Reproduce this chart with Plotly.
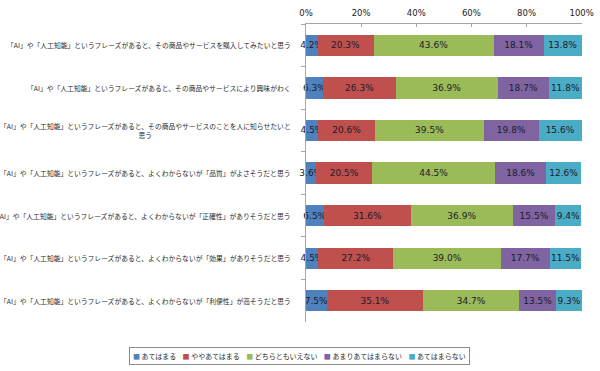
import plotly.graph_objects as go

categories = [
    "「AI」や「人工知能」というフレーズがあると、その商品やサービスを購入してみたいと思う",
    "「AI」や「人工知能」というフレーズがあると、その商品やサービスにより興味がわく",
    "「AI」や「人工知能」というフレーズがあると、その商品やサービスのことを人に知らせたいと<br>思う",
    "「AI」や「人工知能」というフレーズがあると、よくわからないが「品質」がよさそうだと思う",
    "「AI」や「人工知能」というフレーズがあると、よくわからないが「正確性」がありそうだと思う",
    "「AI」や「人工知能」というフレーズがあると、よくわからないが「効果」がありそうだと思う",
    "「AI」や「人工知能」というフレーズがあると、よくわからないが「利便性」が高そうだと思う",
]

series_names = ["あてはまる", "ややあてはまる", "どちらともいえない", "あまりあてはまらない", "あてはまらない"]
atehamaru = [4.2, 6.3, 4.5, 3.6, 6.5, 4.5, 7.5]
yaya_atehamaru = [20.3, 26.3, 20.6, 20.5, 31.6, 27.2, 35.1]
dochiratomo = [43.6, 36.9, 39.5, 44.5, 36.9, 39.0, 34.7]
amari = [18.1, 18.7, 19.8, 18.6, 15.5, 17.7, 13.5]
atehamaranai = [13.8, 11.8, 15.6, 12.6, 9.4, 11.5, 9.3]
series_values = [atehamaru, yaya_atehamaru, dochiratomo, amari, atehamaranai]
colors = ["#4F81BD", "#C0504D", "#9BBB59", "#8064A2", "#4BACC6"]

tick_vals = [0, 20, 40, 60, 80, 100]

num_font = dict(family="DejaVu Sans, Verdana, sans-serif", size=9, color="#1a1a2a")
jp_font = "Noto Sans CJK JP, sans-serif"

fig = go.Figure()
for name, vals, col in zip(series_names, series_values, colors):
    fig.add_trace(go.Bar(
        y=categories, x=vals, name=name, orientation="h",
        marker=dict(color=col, line=dict(width=0)),
        text=[f"{v:.1f}%" for v in vals],
        textposition="inside", insidetextanchor="middle",
        textangle=0, constraintext="none",
        insidetextfont=num_font, cliponaxis=False,
        showlegend=False,
    ))

# category labels
for c in categories:
    fig.add_annotation(
        x=-0.047, xref="paper", y=c, yref="y", text=c,
        xanchor="right", yanchor="middle", align="center",
        showarrow=False, font=dict(family=jp_font, size=6.8, color="#2a2a2a"),
    )

# legend as boxed annotation
legend_text = "&nbsp;&nbsp;&nbsp;&nbsp;".join(
    f"<span style='color:{col}'>■</span> {name}" for name, col in zip(series_names, colors)
)
fig.add_annotation(
    x=-0.022, xref="paper", y=-0.114, yref="paper", text=legend_text,
    xanchor="center", yanchor="middle", showarrow=False,
    font=dict(family=jp_font, size=7, color="#2a2a2a"),
    bordercolor="#8c8c8c", borderwidth=1, borderpad=3, bgcolor="white",
)

fig.update_layout(
    barmode="stack", bargap=0.5,
    width=600, height=371,
    margin=dict(l=306, r=18, t=24, b=49, autoexpand=False),
    paper_bgcolor="white", plot_bgcolor="white",
    xaxis=dict(
        side="top", range=[0, 100.12], tickvals=tick_vals,
        ticktext=[f"{v}%" for v in tick_vals],
        showgrid=False, zeroline=False, automargin=False,
        showline=True, linecolor="#a6a6a6", linewidth=1,
        ticks="inside", ticklen=3, tickcolor="#a6a6a6",
        tickfont=dict(family="DejaVu Sans, Verdana, sans-serif", size=8.5, color="#222222"),
        ticklabelstandoff=4,
    ),
    yaxis=dict(
        autorange="reversed", showticklabels=False, automargin=False,
        showline=True, linecolor="#a6a6a6", linewidth=1,
        ticks="outside", ticklen=4, tickcolor="#a6a6a6",
        tickson="boundaries", showgrid=False,
    ),
)

fig.write_html("out.html", config={"displayModeBar": False},
               post_script="document.body.style.margin='0';")
